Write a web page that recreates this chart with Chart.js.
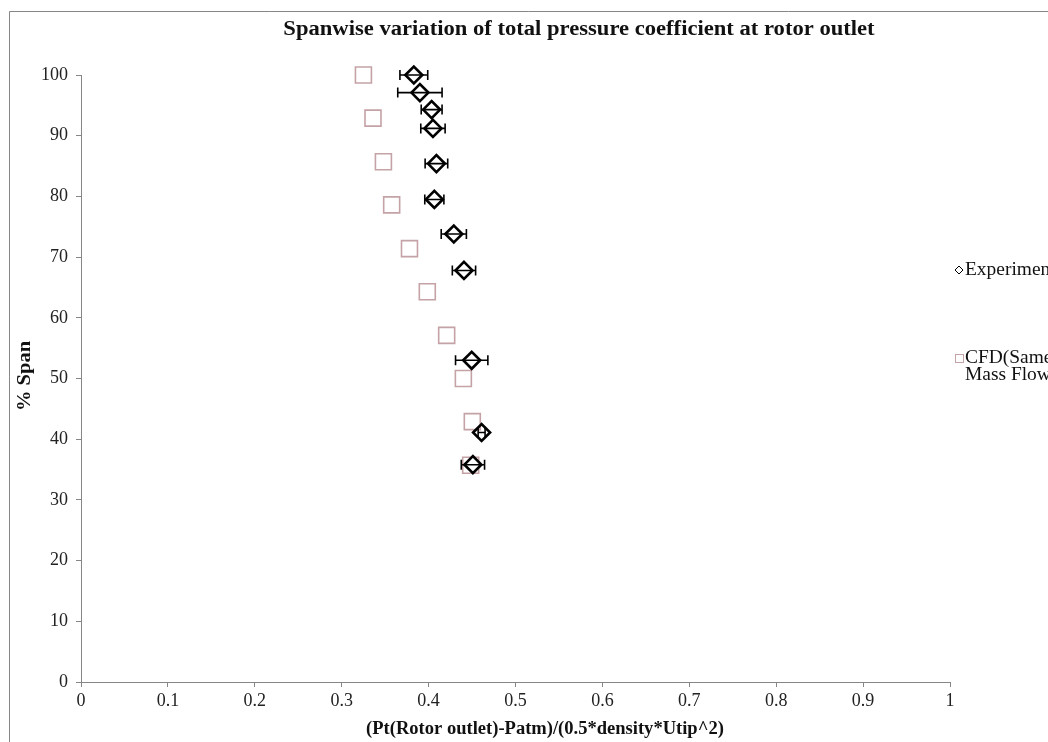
<!DOCTYPE html>
<html lang="en">
  <head>
    <meta charset="UTF-8" />
    <script src="https://cdn.jsdelivr.net/npm/chart.js@4.4.0/dist/chart.umd.min.js"></script>
    <title>Spanwise variation of total pressure coefficient</title>
    <style>
      html, body {
        margin: 0;
        padding: 0;
        background: #fff;
      }
      .container {
        position: relative;
        width: 1048px;
        height: 742px;
      }
    </style>
  </head>
  <body>
    <div class="container">
      <canvas id="myChart" width="1048" height="742"></canvas>
    </div>
    <script>
      // Experiment (diamonds, with horizontal error bars)
      const expX = [0.383, 0.390, 0.4035, 0.405, 0.409, 0.4066, 0.429, 0.4407, 0.4496, 0.461, 0.451];
      const expY = [100, 97.1, 94.3, 91.2, 85.4, 79.5, 73.8, 67.8, 53.0, 41.1, 35.8];
      const expErr = [0.016, 0.0255, 0.012, 0.014, 0.013, 0.011, 0.0145, 0.0134, 0.0186, 0.004, 0.0134];

      // CFD (same mass flow) squares
      const cfdX = [0.325, 0.336, 0.348, 0.3575, 0.378, 0.3985, 0.4208, 0.440, 0.4503, 0.4484];
      const cfdY = [100, 92.9, 85.7, 78.6, 71.4, 64.3, 57.1, 50.0, 42.9, 35.7];

      const xTickLabels = ["0", "0.1", "0.2", "0.3", "0.4", "0.5", "0.6", "0.7", "0.8", "0.9", "1"];
      const yTickLabels = ["0", "10", "20", "30", "40", "50", "60", "70", "80", "90", "100"];

      const titleText = "Spanwise variation of total pressure coefficient at rotor outlet";
      const xTitle = "(Pt(Rotor outlet)-Patm)/(0.5*density*Utip^2)";
      const yTitle = "% Span";
      const legendLabels = ["Experiment", ["CFD(Same", "Mass Flow)"]];

      const serif = "'Liberation Serif', 'Times New Roman', serif";
      const axisGray = "#868686";
      const cfdColor = "#c4a2a6";
      const textColor = "#111";

      const toPoints = (xs, ys) => xs.map((x, i) => ({ x: x, y: ys[i] }));

      // the source image text is a bit wider than plain Times, so stretch it
      function stretchedText(ctx, text, x, y, font, sx, align, angle) {
        ctx.save();
        ctx.translate(x, y);
        if (angle) ctx.rotate(angle);
        ctx.scale(sx, 1);
        ctx.font = font;
        ctx.fillStyle = textColor;
        ctx.textAlign = align;
        ctx.textBaseline = "middle";
        ctx.fillText(text, 0, 0);
        ctx.restore();
      }

      // frame, titles, error bars and legend
      const extras = {
        id: "extras",
        beforeDraw(chart) {
          const ctx = chart.ctx;
          ctx.save();
          ctx.strokeStyle = axisGray;
          ctx.lineWidth = 1;
          ctx.beginPath();
          ctx.moveTo(9.5, chart.height);
          ctx.lineTo(9.5, 11.5);
          ctx.lineTo(chart.width, 11.5);
          ctx.stroke();
          ctx.restore();
          stretchedText(ctx, titleText, 579, 30, "bold 20px " + serif, 1.13, "center");
          stretchedText(ctx, xTitle, 545, 729, "bold 18px " + serif, 1.03, "center");
          stretchedText(ctx, yTitle, 25, 376, "bold 19px " + serif, 1.08, "center", -Math.PI / 2);
        },
        afterDatasetsDraw(chart) {
          const ctx = chart.ctx;
          const xs = chart.scales.x;
          const ys = chart.scales.y;
          ctx.save();
          ctx.strokeStyle = "#000";
          ctx.lineWidth = 1.6;
          for (let i = 0; i < expX.length; i++) {
            const y = ys.getPixelForValue(expY[i]);
            const x1 = xs.getPixelForValue(expX[i] - expErr[i]);
            const x2 = xs.getPixelForValue(expX[i] + expErr[i]);
            ctx.beginPath();
            ctx.moveTo(x1, y);
            ctx.lineTo(x2, y);
            ctx.moveTo(x1, y - 5);
            ctx.lineTo(x1, y + 5);
            ctx.moveTo(x2, y - 5);
            ctx.lineTo(x2, y + 5);
            ctx.stroke();
          }
          ctx.restore();
        },
        afterDraw(chart) {
          const ctx = chart.ctx;
          ctx.save();
          // Experiment marker
          ctx.strokeStyle = "#000";
          ctx.lineWidth = 1;
          ctx.beginPath();
          ctx.moveTo(955, 270);
          ctx.lineTo(959, 266);
          ctx.lineTo(963, 270);
          ctx.lineTo(959, 274);
          ctx.closePath();
          ctx.stroke();
          // CFD marker
          ctx.strokeStyle = cfdColor;
          ctx.strokeRect(955.5, 354.5, 8, 8);
          ctx.restore();
          const lf = "18px " + serif;
          stretchedText(ctx, legendLabels[0], 965, 270, lf, 1.08, "left");
          stretchedText(ctx, legendLabels[1][0], 965, 358, lf, 1.08, "left");
          stretchedText(ctx, legendLabels[1][1], 965, 375, lf, 1.08, "left");
        },
      };

      const myChart = document.getElementById("myChart").getContext("2d");
      new Chart(myChart, {
        type: "scatter",
        data: {
          datasets: [
            {
              label: legendLabels[0],
              data: toPoints(expX, expY),
              pointStyle: "rectRot",
              pointRadius: 8.5,
              pointHoverRadius: 8.5,
              borderColor: "#000",
              backgroundColor: "rgba(255,255,255,0)",
              pointBorderWidth: 2.6,
              clip: false,
            },
            {
              label: legendLabels[1].join(" "),
              data: toPoints(cfdX, cfdY),
              pointStyle: "rect",
              pointRadius: 11.3,
              pointHoverRadius: 11.3,
              borderColor: cfdColor,
              backgroundColor: "rgba(255,255,255,0)",
              pointBorderWidth: 1.6,
              clip: false,
            },
          ],
        },
        options: {
          responsive: false,
          animation: false,
          events: [],
          layout: {
            padding: { top: 75, right: 98, left: 0, bottom: 0 },
          },
          plugins: {
            legend: { display: false },
            title: { display: false },
            tooltip: { enabled: false },
          },
          scales: {
            x: {
              type: "linear",
              min: 0,
              max: 1,
              afterFit(scale) {
                scale.height = 60;
              },
              ticks: {
                stepSize: 0.1,
                padding: 3,
                color: "#222",
                font: { family: serif, size: 18 },
                maxRotation: 0,
                callback: (v, i) => xTickLabels[i],
              },
              grid: {
                drawOnChartArea: false,
                tickLength: 5,
                tickColor: axisGray,
              },
              border: { color: axisGray, width: 1 },
            },
            y: {
              type: "linear",
              min: 0,
              max: 100,
              afterFit(scale) {
                scale.width = 81;
              },
              ticks: {
                stepSize: 10,
                padding: 8,
                color: "#222",
                font: { family: serif, size: 18 },
                callback: (v, i) => yTickLabels[i],
              },
              grid: {
                drawOnChartArea: false,
                tickLength: 5,
                tickColor: axisGray,
              },
              border: { color: axisGray, width: 1 },
            },
          },
        },
        plugins: [extras],
      });
    </script>
  </body>
</html>
